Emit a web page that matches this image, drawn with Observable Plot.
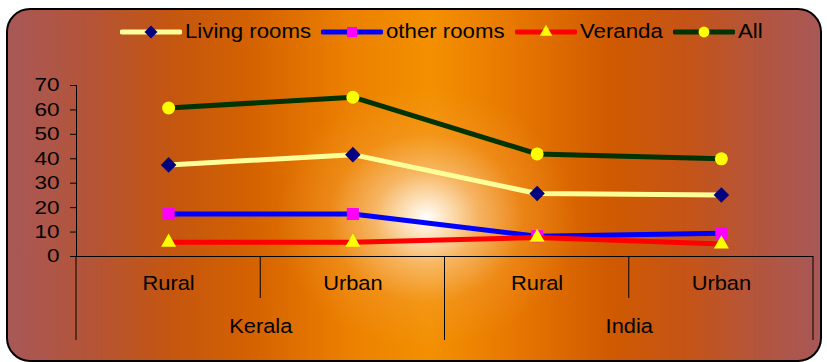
<!DOCTYPE html>
<html>
<head>
<meta charset="utf-8">
<script src="https://cdn.jsdelivr.net/npm/d3@7"></script>
<script src="https://cdn.jsdelivr.net/npm/@observablehq/plot@0.6"></script>
<style>
  html, body { margin: 0; padding: 0; background: #fff; }
  #wrap { position: relative; width: 827px; height: 362px; overflow: hidden; font-family: "Liberation Sans", Arial, sans-serif; }
  #frame {
    position: absolute; left: 6px; top: 8px; width: 812px; height: 350px;
    border: 2.5px solid #000; border-radius: 24px;
    background:
      radial-gradient(ellipse 150px 130px at 418px 208px, rgba(255,255,255,1) 0%, rgba(255,245,230,0.9) 10%, rgba(250,205,150,0.65) 35%, rgba(245,165,70,0.3) 65%, rgba(240,140,20,0) 100%),
      linear-gradient(90deg, #a85858 0%, #b45438 10%, #c45610 20%, #d46200 30%, #ec8000 42%, #f39000 52%, #e87800 62%, #d05a00 74%, #c45418 84%, #b25540 93%, #a85858 100%);
  }
  #chart { position: absolute; left: 0; top: 0; }
  #legend { position: absolute; left: 120px; top: 20px; display: flex; align-items: center; font-size: 19.5px; color: #000; white-space: nowrap; }
  #legend .item { display: flex; align-items: center; margin-right: 10px; }
  #legend svg { margin-right: 3px; }
  #legend span { display: inline-block; transform: scaleX(1.14); transform-origin: left center; }
</style>
</head>
<body>
<div id="wrap">
  <div id="frame"></div>
  <div id="chart"></div>
  <div id="legend"></div>
</div>
<script>
// ---- data ----
const regions = ["Kerala", "Kerala", "India", "India"];
const areas = ["Rural", "Urban", "Rural", "Urban"];
const groups = ["Kerala", "India"];
const seriesNames = ["Living rooms", "other rooms", "Veranda", "All"];
const livingRooms = [37.5, 41.7, 25.8, 25.2];
const otherRooms = [17.4, 17.4, 8.3, 9.5];
const veranda = [5.8, 5.8, 7.8, 5.1];
const all = [60.8, 65.2, 42.0, 40.0];
const yTicks = [0, 10, 20, 30, 40, 50, 60, 70];

// ---- styles ----
const lineColors = ["#ffff99", "#0000ff", "#ff0000", "#003300"];
const markerFill = ["#000080", "#ff00ff", "#ffff00", "#ffff00"];
const markerSymbol = ["diamond2", "square", "triangle", "circle"];
const markerR = [7, 6.8, 5.6, 6.5];

const seriesValues = [livingRooms, otherRooms, veranda, all];
const rows = seriesValues.flatMap((vals, s) =>
  vals.map((v, i) => ({series: seriesNames[s], s, i, x: i + 0.5, value: v, region: regions[i], area: areas[i]})));
const cats = areas.map((a, i) => ({i, x: i + 0.5, area: a}));
const grp = groups.map((g, k) => ({g, x: 2 * k + 1}));

const marks = [];
seriesNames.forEach((name, s) => {
  const d = rows.filter(r => r.s === s);
  marks.push(Plot.line(d, {x: "x", y: "value", stroke: lineColors[s], strokeWidth: 5, strokeLinejoin: "round"}));
  marks.push(Plot.dot(d, {x: "x", y: "value", symbol: () => markerSymbol[s], r: markerR[s], fill: markerFill[s], stroke: "none"}));
});

const plot = Plot.plot({
  width: 827,
  height: 362,
  marginLeft: 76,
  marginRight: 14,
  marginTop: 85,
  marginBottom: 106,
  style: {background: "transparent", fontFamily: "'Liberation Sans', Arial, sans-serif", fontSize: "18.5px", color: "#000", overflow: "visible"},
  x: {type: "linear", domain: [0, areas.length], axis: null},
  y: {domain: [0, 70], axis: null},
  symbol: {type: "identity"},
  marks: [
    Plot.axisY({ticks: yTicks, label: null, tickSize: 6, tickPadding: 11, tickFormat: d => d, fontSize: 18.5, fill: "#000", stroke: "#000"}),
    Plot.ruleX([0], {stroke: "#000", strokeWidth: 1}),
    Plot.ruleY([0], {stroke: "#000", strokeWidth: 1.2}),
    Plot.text(cats, {x: "x", y: () => 0, text: "area", dy: 27, fontSize: 19.5, fill: "#000"}),
    Plot.text(grp, {x: "x", y: () => 0, text: "g", dy: 70, fontSize: 19.5, fill: "#000"}),
    ...marks
  ]
});

const svg = d3.select(plot);
// horizontally stretched text like the original (scale about each text's anchor point)
function stretch(sel, k) {
  sel.each(function() {
    const t = d3.select(this);
    const x = parseFloat(t.attr("x"));
    const tx = isFinite(x) ? x : 0;
    const tr = t.attr("transform") || "";
    t.attr("x", null)
     .attr("transform", `${tr} translate(${tx},0) scale(${k},1)`);
  });
}
stretch(svg.selectAll("g[aria-label='y-axis tick label'] text"), 1.22);
stretch(svg.selectAll("g[aria-label='text'] text"), 1.12);

// category separators below the baseline, positioned with the plot's own scales
const sx = plot.scale("x"), sy = plot.scale("y");
const base = sy.apply(0);
const sepG = svg.append("g").attr("stroke", "#000").attr("stroke-width", 1);
d3.range(areas.length + 1).forEach(b => {
  const full = b === 0 || b === areas.length || regions[b] !== regions[b - 1];
  const px = sx.apply(b);
  sepG.append("line").attr("x1", px).attr("x2", px).attr("y1", base).attr("y2", base + (full ? 84 : 42));
});
document.getElementById("chart").appendChild(plot);

// legend
const legend = d3.select("#legend");
seriesNames.forEach((name, s) => {
  const it = legend.append("div").attr("class", "item");
  const sw = it.append("svg").attr("width", 62).attr("height", 20);
  sw.append("line").attr("x1", 2).attr("x2", 60).attr("y1", 10).attr("y2", 10)
    .attr("stroke", lineColors[s]).attr("stroke-width", 5).attr("stroke-linecap", "round");
  const sym = {diamond2: d3.symbolDiamond2, square: d3.symbolSquare, triangle: d3.symbolTriangle, circle: d3.symbolCircle}[markerSymbol[s]];
  sw.append("path").attr("transform", "translate(31,10)").attr("d", d3.symbol(sym, Math.PI * markerR[s] * markerR[s] * 0.7)()).attr("fill", markerFill[s]);
  it.append("span").text(name);
});
// compensate layout width for the stretch transform
legend.selectAll("span").each(function() {
  this.style.marginRight = (this.offsetWidth * 0.14) + "px";
});
</script>
</body>
</html>
